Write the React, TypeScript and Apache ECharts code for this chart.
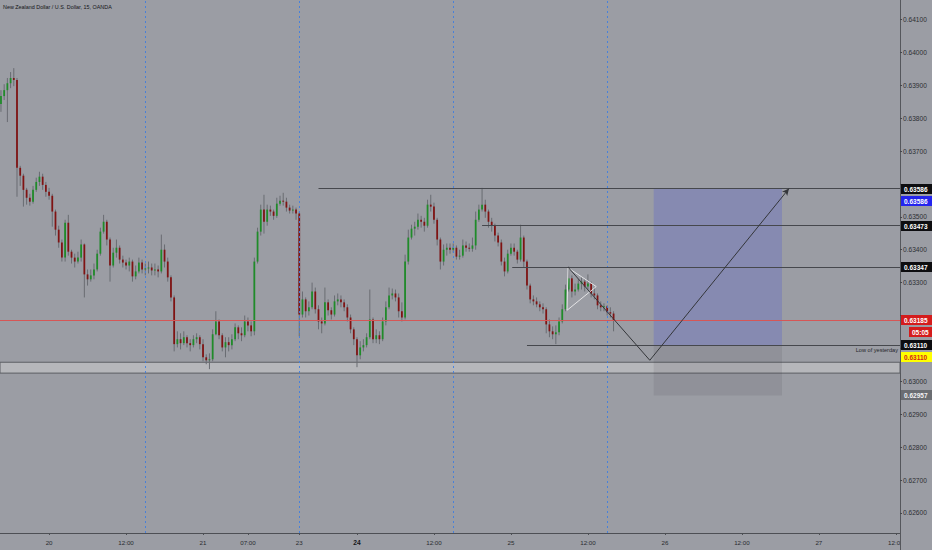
import React, { useEffect, useRef } from 'react';
import * as echarts from 'echarts';

const FONT = "'Liberation Sans', Arial, sans-serif";
const BG = '#9b9da4';

// x axis is measured in 30-minute slots, slot 0 = day 20 00:00
const xMin = -15.3;
const xMax = 265.3;
const yMin = 0.62539;
const yMax = 0.64159;

const tickSlots = [0, 24, 48, 62, 78, 96, 120, 144, 168, 192, 216, 240, 264];
const tickLabels = ['20', '12:00', '21', '07:00', '23', '24', '12:00', '25', '12:00', '26', '12:00', '27', '12:00'];
const priceTicks = [0.626, 0.627, 0.628, 0.629, 0.63, 0.631, 0.632, 0.633, 0.634, 0.635, 0.636, 0.637, 0.638, 0.639, 0.64, 0.641];
// labels hidden behind the price tags are left out
const priceLabels = [0.626, 0.627, 0.628, 0.629, 0.63, 0.633, 0.634, 0.635, 0.637, 0.638, 0.639, 0.64, 0.641];
const sessionBreaks = [30, 78, 126, 174];

const firstSlot = -15;
// [open, close, low, high]
const candles = [
  [0.63843, 0.63867, 0.63819, 0.63885], [0.63867, 0.63885, 0.63855, 0.63903], [0.63885, 0.63906, 0.63788, 0.63922],
  [0.63906, 0.63922, 0.63891, 0.6394], [0.63922, 0.63916, 0.63897, 0.63952], [0.63916, 0.63649, 0.63561, 0.63922],
  [0.63649, 0.63625, 0.63594, 0.63655], [0.63625, 0.63582, 0.63531, 0.63631], [0.63582, 0.63558, 0.63537, 0.63588],
  [0.63558, 0.63546, 0.63534, 0.6357], [0.63546, 0.63582, 0.6354, 0.63594], [0.63582, 0.63606, 0.63576, 0.63619],
  [0.63606, 0.63622, 0.63594, 0.63637], [0.63622, 0.63597, 0.63582, 0.63631], [0.63597, 0.63576, 0.63561, 0.63606],
  [0.63576, 0.63564, 0.63552, 0.63588], [0.63564, 0.63516, 0.6347, 0.6357], [0.63516, 0.63461, 0.63443, 0.63522],
  [0.63461, 0.63422, 0.63406, 0.63473], [0.63422, 0.63376, 0.63364, 0.63431], [0.63376, 0.63482, 0.63364, 0.63491],
  [0.63482, 0.63394, 0.63382, 0.63506], [0.63394, 0.63376, 0.63358, 0.634], [0.63376, 0.63364, 0.63346, 0.63388],
  [0.63364, 0.63376, 0.63358, 0.63394], [0.63376, 0.63416, 0.63364, 0.63431], [0.63416, 0.63325, 0.63255, 0.63419],
  [0.63325, 0.6331, 0.63291, 0.6334], [0.6331, 0.63322, 0.63303, 0.6334], [0.63322, 0.6334, 0.6331, 0.63358],
  [0.6334, 0.63388, 0.63334, 0.634], [0.63388, 0.63455, 0.63382, 0.63467], [0.63455, 0.63485, 0.63449, 0.63506],
  [0.63485, 0.63431, 0.63413, 0.63491], [0.63431, 0.63352, 0.63303, 0.63437], [0.63352, 0.63391, 0.63346, 0.63406],
  [0.63391, 0.63406, 0.63376, 0.63431], [0.63406, 0.6337, 0.63358, 0.63413], [0.6337, 0.63361, 0.63346, 0.63382],
  [0.63361, 0.63352, 0.6334, 0.6337], [0.63352, 0.63364, 0.63334, 0.63376], [0.63364, 0.63319, 0.63303, 0.6337],
  [0.63319, 0.63334, 0.6331, 0.63352], [0.63334, 0.63361, 0.63328, 0.63376], [0.63361, 0.6334, 0.63328, 0.6337],
  [0.6334, 0.63343, 0.63322, 0.63358], [0.63343, 0.63346, 0.63328, 0.63364], [0.63346, 0.63337, 0.63322, 0.63358],
  [0.63337, 0.6334, 0.63322, 0.63358], [0.6334, 0.63334, 0.63316, 0.63352], [0.63334, 0.634, 0.63328, 0.63446],
  [0.634, 0.63364, 0.63346, 0.63416], [0.63364, 0.63316, 0.63303, 0.63376], [0.63316, 0.63255, 0.63243, 0.63322],
  [0.63255, 0.63113, 0.63091, 0.63261], [0.63113, 0.63128, 0.63103, 0.63152], [0.63128, 0.63116, 0.63097, 0.63146],
  [0.63116, 0.63134, 0.6311, 0.63152], [0.63134, 0.63116, 0.63103, 0.6314], [0.63116, 0.6311, 0.63091, 0.63128],
  [0.6311, 0.63128, 0.63103, 0.6314], [0.63128, 0.63134, 0.63116, 0.63146], [0.63134, 0.63113, 0.63097, 0.6314],
  [0.63113, 0.63073, 0.63061, 0.63128], [0.63073, 0.63064, 0.63052, 0.63082], [0.63064, 0.63067, 0.63037, 0.63085],
  [0.63067, 0.63143, 0.63061, 0.63158], [0.63143, 0.63182, 0.6314, 0.63213], [0.63182, 0.6314, 0.63128, 0.63188],
  [0.6314, 0.63103, 0.63091, 0.63146], [0.63103, 0.63119, 0.63073, 0.63134], [0.63119, 0.6311, 0.63091, 0.63134],
  [0.6311, 0.63128, 0.63097, 0.63143], [0.63128, 0.63164, 0.63122, 0.63176], [0.63164, 0.63146, 0.63128, 0.6317],
  [0.63146, 0.6314, 0.63122, 0.63164], [0.6314, 0.63182, 0.63134, 0.632], [0.63182, 0.6317, 0.63152, 0.63194],
  [0.6317, 0.63152, 0.63137, 0.63182], [0.63152, 0.63364, 0.6314, 0.63376], [0.63364, 0.63455, 0.63358, 0.63467],
  [0.63455, 0.63522, 0.63443, 0.63537], [0.63522, 0.63485, 0.63449, 0.63567], [0.63485, 0.63522, 0.63473, 0.63537],
  [0.63522, 0.63516, 0.63503, 0.63534], [0.63516, 0.63503, 0.63491, 0.63522], [0.63503, 0.6354, 0.63497, 0.63558],
  [0.6354, 0.63549, 0.63534, 0.63564], [0.63549, 0.63546, 0.63534, 0.63573], [0.63546, 0.63528, 0.63516, 0.63558],
  [0.63528, 0.63519, 0.6351, 0.63537], [0.63519, 0.63522, 0.6351, 0.63534], [0.63522, 0.6351, 0.63491, 0.63528],
  [0.6351, 0.63203, 0.63137, 0.63516], [0.63203, 0.63249, 0.63194, 0.63273], [0.63249, 0.63213, 0.63194, 0.63255],
  [0.63213, 0.63225, 0.632, 0.63243], [0.63225, 0.63273, 0.63219, 0.633], [0.63273, 0.63219, 0.63206, 0.63285],
  [0.63219, 0.63182, 0.63158, 0.63231], [0.63182, 0.63176, 0.63146, 0.63194], [0.63176, 0.6324, 0.6317, 0.63285],
  [0.6324, 0.63216, 0.632, 0.63249], [0.63216, 0.63203, 0.63188, 0.63225], [0.63203, 0.63243, 0.63197, 0.63261],
  [0.63243, 0.63249, 0.63231, 0.63267], [0.63249, 0.6324, 0.63225, 0.63261], [0.6324, 0.63225, 0.63213, 0.63249],
  [0.63225, 0.63194, 0.63182, 0.63234], [0.63194, 0.63158, 0.63146, 0.63203], [0.63158, 0.63128, 0.6311, 0.63164],
  [0.63128, 0.63079, 0.63043, 0.63134], [0.63079, 0.63103, 0.63067, 0.63122], [0.63103, 0.6311, 0.63091, 0.63128],
  [0.6311, 0.63134, 0.63103, 0.63146], [0.63134, 0.63188, 0.63128, 0.63279], [0.63188, 0.63128, 0.63116, 0.63194],
  [0.63128, 0.6314, 0.63116, 0.63158], [0.6314, 0.63128, 0.63113, 0.63152], [0.63128, 0.63182, 0.63122, 0.63194],
  [0.63182, 0.63225, 0.6317, 0.63243], [0.63225, 0.63261, 0.63219, 0.63285], [0.63261, 0.63267, 0.63249, 0.63282],
  [0.63267, 0.63255, 0.63243, 0.63279], [0.63255, 0.63213, 0.63194, 0.63267], [0.63213, 0.63194, 0.63182, 0.6324],
  [0.63194, 0.63364, 0.63188, 0.63385], [0.63364, 0.63437, 0.63355, 0.63461], [0.63437, 0.63464, 0.63431, 0.63476],
  [0.63464, 0.6347, 0.63443, 0.63485], [0.6347, 0.63491, 0.63461, 0.6351], [0.63491, 0.63485, 0.63467, 0.63503],
  [0.63485, 0.63473, 0.63455, 0.63497], [0.63473, 0.63537, 0.63467, 0.63552], [0.63537, 0.63531, 0.63516, 0.63567],
  [0.63531, 0.63491, 0.63479, 0.63543], [0.63491, 0.63431, 0.63413, 0.63497], [0.63431, 0.63364, 0.6334, 0.63437],
  [0.63364, 0.634, 0.63352, 0.63416], [0.634, 0.63406, 0.63382, 0.63419], [0.63406, 0.634, 0.63388, 0.63419],
  [0.634, 0.63406, 0.63391, 0.63419], [0.63406, 0.63379, 0.6337, 0.63413], [0.63379, 0.63382, 0.6337, 0.634],
  [0.63382, 0.63413, 0.63376, 0.63431], [0.63413, 0.63406, 0.63394, 0.63425], [0.63406, 0.63403, 0.63394, 0.63419],
  [0.63403, 0.63413, 0.63394, 0.63437], [0.63413, 0.63491, 0.634, 0.63516], [0.63491, 0.63522, 0.63485, 0.63537],
  [0.63522, 0.63537, 0.63516, 0.63588], [0.63537, 0.63516, 0.63497, 0.63552], [0.63516, 0.63485, 0.63467, 0.63522],
  [0.63485, 0.63473, 0.63455, 0.63497], [0.63473, 0.63443, 0.63425, 0.63479], [0.63443, 0.63422, 0.6341, 0.63452],
  [0.63422, 0.63364, 0.63352, 0.63431], [0.63364, 0.63334, 0.63319, 0.63376], [0.63334, 0.63388, 0.63328, 0.634],
  [0.63388, 0.63406, 0.63382, 0.63419], [0.63406, 0.63394, 0.63382, 0.63419], [0.63394, 0.6337, 0.63358, 0.634],
  [0.6337, 0.63437, 0.63364, 0.63476], [0.63437, 0.63364, 0.63346, 0.63443], [0.63364, 0.63291, 0.63279, 0.6337],
  [0.63291, 0.63249, 0.63237, 0.63297], [0.63249, 0.63243, 0.63231, 0.63261], [0.63243, 0.63234, 0.63225, 0.63255],
  [0.63234, 0.63225, 0.63213, 0.63243], [0.63225, 0.63219, 0.63206, 0.63237], [0.63219, 0.63173, 0.63146, 0.63225],
  [0.63173, 0.63152, 0.63134, 0.63188], [0.63152, 0.63143, 0.63128, 0.63167], [0.63143, 0.63149, 0.63113, 0.6317],
  [0.63149, 0.63182, 0.6314, 0.63194], [0.63182, 0.63219, 0.63176, 0.63234], [0.63219, 0.63279, 0.63213, 0.63294],
  [0.63279, 0.63313, 0.63273, 0.63349], [0.63313, 0.63273, 0.63255, 0.63322], [0.63273, 0.63279, 0.63261, 0.63297],
  [0.63279, 0.63297, 0.63273, 0.6331], [0.63297, 0.63303, 0.63279, 0.63316], [0.63303, 0.63288, 0.63273, 0.6331],
  [0.63288, 0.63297, 0.63279, 0.63325], [0.63297, 0.63267, 0.63255, 0.63303], [0.63267, 0.63261, 0.63249, 0.63285],
  [0.63261, 0.63231, 0.63219, 0.63267], [0.63231, 0.63225, 0.63213, 0.63243], [0.63225, 0.63228, 0.63213, 0.63237],
  [0.63228, 0.6321, 0.632, 0.63231], [0.6321, 0.63206, 0.63194, 0.63225], [0.63206, 0.63185, 0.63152, 0.63213],
];

// horizontal rays: start slot and price
const raySlots = [84, 135, 144.4, 149];
const rayPrices = [0.63586, 0.63473, 0.63347, 0.6311];
const lastPrice = 0.63185;
const zoneBand = [0.63058, 0.63025];

// long position tool
const positionSlots = [188.5, 228.5];
const targetPrice = 0.63586;
const entryPrice = 0.6311;
const stopPrice = 0.62957;

// projected path and triangle drawing
const pathPoints = [[161.8, 0.63347], [187.3, 0.63064], [230.7, 0.63586]];
const trianglePoints = [[161.8, 0.63345], [170.6, 0.63288], [161.5, 0.63216], [161.8, 0.63345]];

// price scale tags
const tagPrices = [0.63586, 0.63586, 0.63473, 0.63347, 0.63185, 0.63185, 0.6311, 0.6311, 0.62957];
const tagTexts = ['0.63586', '0.63586', '0.63473', '0.63347', '0.63185', '05:05', '0.63110', '0.63110', '0.62957'];
const tagStyles = [
  { bg: '#0d0d10', fg: '#ffffff', row: 0, inset: 0 },
  { bg: '#2424ee', fg: '#ffffff', row: 1, inset: 0 },
  { bg: '#0d0d10', fg: '#ffffff', row: 0, inset: 0 },
  { bg: '#0d0d10', fg: '#ffffff', row: 0, inset: 0 },
  { bg: '#d41c1c', fg: '#ffffff', row: 0, inset: 0 },
  { bg: '#d41c1c', fg: '#ffffff', row: 1, inset: 8 },
  { bg: '#0d0d10', fg: '#ffffff', row: 0, inset: 0 },
  { bg: '#ffff00', fg: '#d41c1c', row: 1, inset: 0 },
  { bg: '#6b6d72', fg: '#f2f2f2', row: 0, inset: 0 },
];

export default function App() {
  const ref = useRef<HTMLDivElement | null>(null);

  useEffect(() => {
    if (!ref.current) return;
    const chart = echarts.init(ref.current, undefined, { renderer: 'svg' });
    const lineCol = '#46484d';

    chart.setOption({
      animation: false,
      backgroundColor: BG,
      textStyle: { fontFamily: FONT },
      title: {
        text: 'New Zealand Dollar / U.S. Dollar, 15, OANDA',
        left: 3, top: 4, padding: 0,
        textStyle: { fontSize: 5.4, color: '#141518', fontWeight: 'normal', fontFamily: FONT },
      },
      grid: { left: 0, right: 32, top: 0, bottom: 17 },
      xAxis: {
        type: 'value', min: xMin, max: xMax,
        axisLine: { show: true, onZero: false, lineStyle: { color: '#4d4f54', width: 1 } },
        axisTick: { show: true, customValues: tickSlots, length: 2, lineStyle: { color: '#4d4f54' } },
        axisLabel: {
          customValues: tickSlots,
          formatter: (v: number) => {
            const t = tickLabels[tickSlots.indexOf(v)] ?? '';
            return t === '24' ? '{b|24}' : t;
          },
          fontSize: 6.2, color: '#2a2c30', margin: 6, fontFamily: FONT,
          rich: { b: { fontWeight: 'bold', fontSize: 6.6, color: '#151619', fontFamily: FONT } },
        },
        splitLine: { show: false },
      },
      yAxis: {
        type: 'value', position: 'right', min: yMin, max: yMax,
        axisLine: { show: true, onZero: false, lineStyle: { color: '#55575c', width: 1 } },
        axisTick: { show: true, customValues: priceTicks, length: 2, lineStyle: { color: '#45474c' } },
        axisLabel: {
          customValues: priceLabels,
          formatter: (v: number) => v.toFixed(5),
          fontSize: 6.6, color: '#2d2f33', margin: 3, fontFamily: FONT,
        },
        splitLine: { show: false },
      },
      series: [
        {
          name: 'back', type: 'line', data: [], z: 1, silent: true,
          markArea: {
            silent: true,
            data: [
              [
                { yAxis: zoneBand[0], itemStyle: { color: '#b6b7bb', borderColor: '#5d5f64', borderWidth: 1 } },
                { yAxis: zoneBand[1] },
              ],
              [
                { coord: [positionSlots[0], targetPrice], itemStyle: { color: 'rgba(88,96,205,0.31)' } },
                { coord: [positionSlots[1], entryPrice] },
              ],
              [
                { coord: [positionSlots[0], entryPrice], itemStyle: { color: 'rgba(55,57,68,0.11)' } },
                { coord: [positionSlots[1], stopPrice] },
              ],
            ],
          },
          markLine: {
            silent: true, symbol: ['none', 'none'], label: { show: false }, precision: 5,
            lineStyle: { color: '#3f7ee0', type: [2, 3], width: 1, opacity: 0.9 },
            data: sessionBreaks.map((s) => ({ xAxis: s })),
          },
        },
        {
          name: 'NZDUSD', type: 'custom', z: 2,
          encode: { x: 0, y: [1, 2, 3, 4] },
          data: candles.map((c, i) => [firstSlot + i, ...c]),
          renderItem: (params: any, api: any) => {
            const x = api.value(0);
            const o = api.value(1);
            const c = api.value(2);
            const pO = api.coord([x, o]);
            const pC = api.coord([x, c]);
            const pL = api.coord([x, api.value(3)]);
            const pH = api.coord([x, api.value(4)]);
            const w = api.size([1, 0])[0] * 0.55;
            const up = c >= o;
            return {
              type: 'group',
              children: [
                {
                  type: 'line',
                  shape: { x1: pH[0], y1: pH[1], x2: pL[0], y2: pL[1] },
                  style: { stroke: '#696c72', lineWidth: 1 },
                },
                {
                  type: 'rect',
                  shape: {
                    x: pO[0] - w / 2,
                    y: Math.min(pO[1], pC[1]),
                    width: w,
                    height: Math.max(1, Math.abs(pO[1] - pC[1])),
                  },
                  style: { fill: up ? '#1f8c29' : '#801313' },
                },
              ],
            };
          },
        },
        {
          name: 'front', type: 'line', data: [], z: 3, silent: true,
          markLine: {
            silent: true, symbol: ['none', 'none'], label: { show: false }, precision: 5,
            data: [
              { yAxis: lastPrice, lineStyle: { color: '#d65656', width: 1, type: 'solid' } },
              ...raySlots.map((s, i) => [
                {
                  coord: [s, rayPrices[i]],
                  lineStyle: { color: lineCol, width: 1, type: 'solid' },
                  label: i === 3
                    ? { show: true, position: 'insideEndBottom', formatter: 'Low of yesterday', fontSize: 5.6, color: '#25272b', distance: 2, fontFamily: FONT }
                    : { show: false },
                },
                { coord: [xMax, rayPrices[i]] },
              ]),
              [
                { coord: pathPoints[0], lineStyle: { color: '#34363a', width: 1, type: 'solid' } },
                { coord: pathPoints[1] },
              ],
              [
                { coord: pathPoints[1], lineStyle: { color: '#34363a', width: 1, type: 'solid' } },
                { coord: pathPoints[2], symbol: 'arrow', symbolSize: [5, 7] },
              ],
            ],
          },
        },
        {
          name: 'triangle', type: 'line', z: 3, silent: true,
          data: trianglePoints, symbol: 'none',
          lineStyle: { color: '#e4e4e6', width: 1 },
        },
      ],
    });

    const toY = (p: number) => chart.convertToPixel({ yAxisIndex: 0 }, p) as number;
    const plotRight = 900;
    const graphic: any[] = [];
    tagPrices.forEach((p, i) => {
      const st = tagStyles[i];
      const cy = toY(p) + st.row * 12;
      graphic.push({
        type: 'rect', z: 100,
        shape: { x: plotRight + 1 + st.inset, y: Math.round(cy) - 5, width: 31 - st.inset, height: 10 },
        style: { fill: st.bg },
      });
      graphic.push({
        type: 'text', z: 101,
        x: plotRight + 4 + st.inset, y: Math.round(cy),
        style: {
          text: tagTexts[i], fill: st.fg, fontSize: 6.5, fontWeight: 'bold',
          fontFamily: FONT, verticalAlign: 'middle', align: 'left',
        },
      });
    });
    // bottom-right corner of the price scale
    graphic.push({ type: 'rect', z: 100, shape: { x: plotRight + 0.5, y: 533.5, width: 32, height: 17 }, style: { fill: BG } });
    graphic.push({ type: 'line', z: 101, shape: { x1: plotRight + 0.5, y1: 533, x2: plotRight + 0.5, y2: 550 }, style: { stroke: '#55575c', lineWidth: 1 } });
    chart.setOption({ graphic });

    return () => chart.dispose();
  }, []);

  return (
    <div
      ref={ref}
      style={{ position: 'fixed', left: 0, top: 0, width: 932, height: 550 }}
    />
  );
}
